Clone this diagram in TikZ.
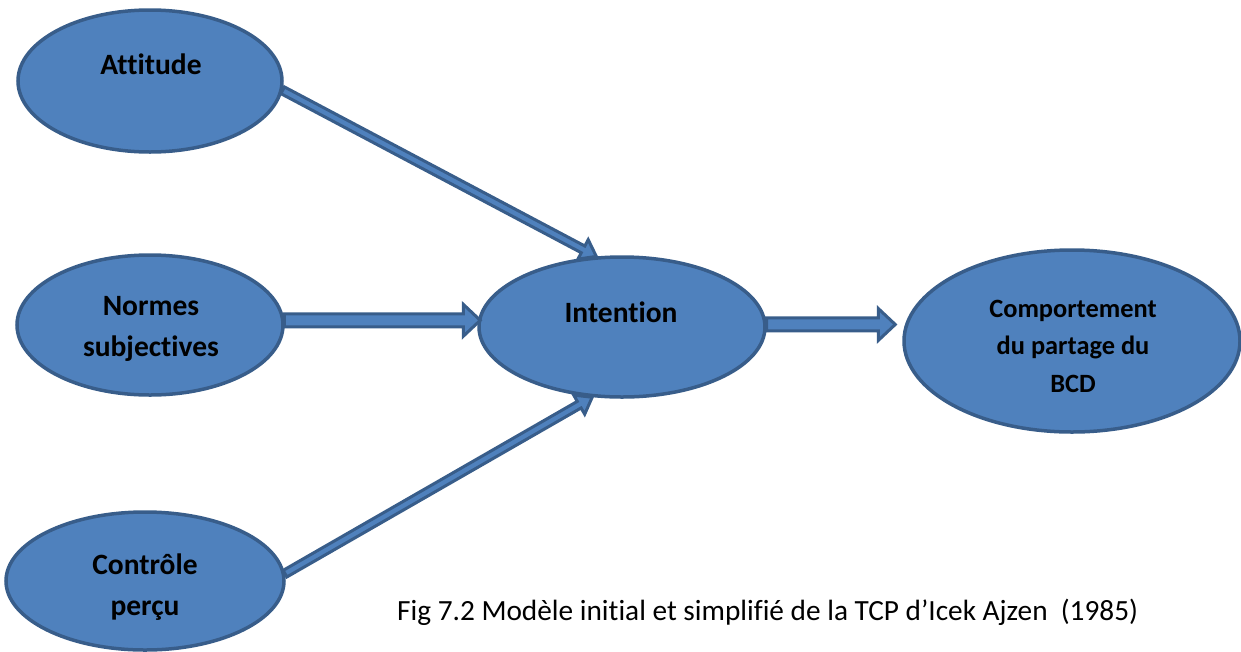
\documentclass[tikz,border=0pt]{standalone}
\usepackage{fontspec}
\setmainfont[Ligatures=NoCommon]{Carlito}
\usetikzlibrary{shapes.geometric,calc}
\definecolor{bfill}{HTML}{4F81BD}
\definecolor{bline}{HTML}{385D8A}
\tikzset{
  oval/.style={ellipse, draw=bline, fill=bfill, line width=3.5pt, inner sep=0pt},
  lbl/.style={font={\fontsize{29.5}{41}\selectfont\bfseries}, align=center, inner sep=0pt, anchor=base},
  lblsmall/.style={font={\fontsize{26.4}{37.5}\selectfont\bfseries}, align=center, inner sep=0pt, anchor=base},
  arrowbox/.style={draw=bline, fill=bfill, line width=3pt, line join=miter},
  captionstyle/.style={font={\fontsize{29.3}{35}\selectfont}, inner sep=0pt, anchor=base west}
}
% block arrow: start, end, half shaft width, half head width, head length
\newcommand{\blockarr}[5]{%
  \path ($(#2)!#5!(#1)$) coordinate (hbase);
  \draw[arrowbox] ($(#1)!#3!90:(#2)$) -- ($(hbase)!#3!90:(#2)$) -- ($(hbase)!#4!90:(#2)$)
    -- (#2) -- ($(hbase)!#4!-90:(#2)$) -- ($(hbase)!#3!-90:(#2)$) -- ($(#1)!#3!-90:(#2)$) -- cycle;
}
\begin{document}
\begin{tikzpicture}[x=1pt,y=-1pt]
\useasboundingbox (0,0) rectangle (1241,651);
% ellipses
\node[oval, minimum width=264pt, minimum height=142pt] (att) at (150,81) {};
\node[oval, minimum width=266pt, minimum height=140pt] (norm) at (150,325) {};
\node[oval, minimum width=278pt, minimum height=138pt] (ctrl) at (145,581) {};
\node[oval, minimum width=286pt, minimum height=140pt] (int) at (622,327) {};
\node[oval, minimum width=336pt, minimum height=182pt] (comp) at (1072,341) {};
% arrow end points
\coordinate (a1) at (att.-4);
\coordinate (a2) at (int.110);
\coordinate (n1) at (norm.2);
\coordinate (n2) at ($(int.west |- n1)+(3,0)$);
\coordinate (c1) at (ctrl.3);
\coordinate (c2) at (int.247);
\coordinate (i1) at (int.1);
\coordinate (i2) at ($(comp.west |- i1)+(-7,0)$);
% arrows
\blockarr{a1}{a2}{3.8pt}{11pt}{15pt}
\blockarr{n1}{n2}{6.5pt}{16pt}{17pt}
\blockarr{c1}{c2}{3.8pt}{11pt}{15pt}
\blockarr{i1}{i2}{6.5pt}{16pt}{17pt}
% labels (multi-line nodes are anchored at the baseline of their last line)
\node[lbl] (attT) at (151,74) {Attitude};
\node[lbl] (normT) at (151,356) {Normes\\subjectives};
\node[lbl] (ctrlT) at (145,615) {Contrôle\\perçu};
\node[lbl] (intT) at (621,322) {Intention};
\node[lblsmall] (compT) at (1073,392) {Comportement\\du partage du\\BCD};
\node[captionstyle] (cap) at (397,620) {Fig 7.2 Modèle initial et simplifié de la TCP d’Icek Ajzen\ \ (1985)};
\end{tikzpicture}
\end{document}
